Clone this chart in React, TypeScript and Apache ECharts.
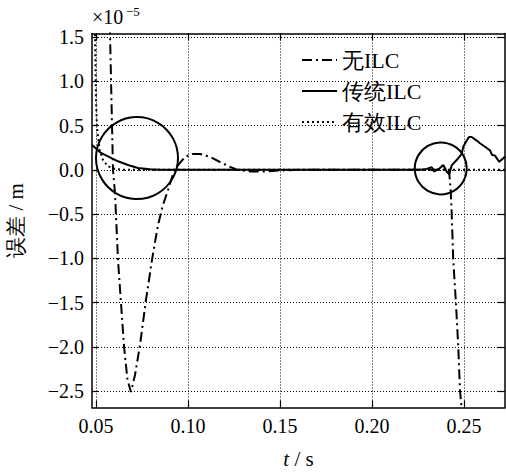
import React, { useEffect, useRef } from "react";
import * as echarts from "echarts";

// ---------- data (error values in units of 1e-5 m) ----------
const seriesNames = ["无ILC", "传统ILC", "有效ILC"];

const xTicks = [0.05, 0.1, 0.15, 0.2, 0.25];
const yTicks = [-2.5, -2.0, -1.5, -1.0, -0.5, 0.0, 0.5, 1.0, 1.5];

const X_MIN = 0.04783;
const X_MAX = 0.2723;
const Y_MIN = -2.686;
const Y_MAX = 1.54;

// 无ILC (no ILC)
const noIlcT = [
  0.0561, 0.05761, 0.05924, 0.06033, 0.06196, 0.06359, 0.06522, 0.06712, 0.06902,
  0.0712, 0.07391, 0.07717, 0.08043, 0.0837, 0.08641, 0.08913, 0.09185, 0.09348,
  0.09565, 0.09837, 0.10217, 0.10652, 0.11196, 0.11739, 0.12174, 0.12663, 0.1337,
  0.14185, 0.15, 0.16087, 0.2, 0.24185, 0.24277, 0.24332, 0.24418, 0.24565, 0.2469,
  0.24783, 0.24864, 0.2489,
];
const noIlcV = [
  3.0, 1.546, 0.0, -0.262, -1.019, -1.505, -1.991, -2.375, -2.511,
  -2.319, -1.98, -1.471, -1.019, -0.624, -0.398, -0.228, -0.047, 0.02,
  0.077, 0.145, 0.179, 0.179, 0.145, 0.088, 0.043, 0.0, -0.019,
  -0.019, -0.008, 0.0, 0.0, 0.0, -0.228, -0.49, -1.02, -1.51, -2.0,
  -2.49, -2.68, -3.0,
];

// 传统ILC (conventional ILC)
const convT = [
  0.04783, 0.05272, 0.05761, 0.06196, 0.06739, 0.07283, 0.07935, 0.08478, 0.15, 0.2,
  0.22429, 0.22609, 0.22973, 0.23245, 0.2337, 0.23696, 0.23875, 0.2406, 0.24201,
  0.24332, 0.24603, 0.24875, 0.24962, 0.25147, 0.25272, 0.25418, 0.2569, 0.2587,
  0.26141, 0.26413, 0.26522, 0.26685, 0.26918, 0.27136, 0.2723,
];
const convV = [
  0.28, 0.19, 0.14, 0.096, 0.054, 0.02, 0.006, 0.0, 0.0, 0.0,
  0.0, 0.0, 0.01, 0.03, -0.02, 0.02, 0.055, -0.02, -0.05,
  0.05, 0.11, 0.18, 0.26, 0.33, 0.37, 0.37, 0.33, 0.3,
  0.26, 0.22, 0.17, 0.16, 0.09, 0.13, 0.15,
];

// 有效ILC (effective ILC)
const effT = [0.0484, 0.04946, 0.05, 0.05054, 0.05201, 0.0538, 0.05652, 0.06033, 0.065, 0.15, 0.2, 0.25, 0.2723];
const effV = [3.0, 1.55, 0.79, 0.47, 0.22, 0.11, 0.04, 0.01, 0.0, 0.0, 0.0, 0.0, 0.0];

// annotation circles: [t, value] centres and pixel radius
const circleCentres = [
  [0.07228, 0.133],
  [0.23739, 0.015],
];
const circleRadii = [41, 26];

const FONT = "'Liberation Serif', serif";

const zip = (t: number[], v: number[]) => t.map((x, i) => [x, v[i]]);
const fmtY = (v: number) => v.toFixed(1).replace("-", "\u2212");

export default function App() {
  const ref = useRef<HTMLDivElement>(null);

  useEffect(() => {
    if (!ref.current) return;
    const chart = echarts.init(ref.current, undefined, { renderer: "svg" });

    const axisLineStyle = { color: "#000", width: 1.5 };
    const tickStyle = { color: "#000", width: 1.2 };
    const gridLine = { show: true, lineStyle: { color: "#000", width: 1, type: [1, 2] as any } };

    const option: any = {
      animation: false,
      backgroundColor: "#fff",
      textStyle: { fontFamily: FONT },
      grid: {
        left: 92,
        top: 33.5,
        right: 1,
        bottom: 65.5,
        containLabel: false,
        outerBoundsMode: "none",
      },
      legend: {
        data: seriesNames,
        orient: "vertical",
        left: 301,
        top: 49,
        padding: 0,
        itemWidth: 35,
        itemHeight: 14,
        itemGap: 9,
        itemStyle: { opacity: 0 },
        textStyle: { fontSize: 22, fontFamily: FONT, color: "#000" },
      },
      xAxis: [
        {
          type: "value",
          position: "bottom",
          min: X_MIN,
          max: X_MAX,
          axisLine: { show: true, onZero: false, lineStyle: axisLineStyle },
          axisTick: { show: true, inside: true, length: 7, customValues: xTicks, lineStyle: tickStyle },
          axisLabel: {
            customValues: xTicks,
            formatter: (v: number) => v.toFixed(2),
            color: "#000",
            fontSize: 20,
            fontFamily: FONT,
            margin: 8,
          },
          splitLine: gridLine,
          name: "{i|t} / s",
          nameLocation: "middle",
          nameGap: 41,
          nameTextStyle: {
            fontSize: 21,
            fontFamily: FONT,
            color: "#000",
            rich: { i: { fontSize: 21, fontFamily: FONT, fontStyle: "italic", color: "#000" } },
          },
        },
        {
          type: "value",
          position: "top",
          min: X_MIN,
          max: X_MAX,
          axisLine: { show: true, onZero: false, lineStyle: axisLineStyle },
          axisTick: { show: true, inside: true, length: 7, customValues: xTicks, lineStyle: tickStyle },
          axisLabel: { show: false },
          splitLine: { show: false },
        },
      ],
      yAxis: [
        {
          type: "value",
          position: "left",
          min: Y_MIN,
          max: Y_MAX,
          axisLine: { show: true, onZero: false, lineStyle: axisLineStyle },
          axisTick: { show: true, inside: true, length: 7, customValues: yTicks, lineStyle: tickStyle },
          axisLabel: {
            customValues: yTicks,
            formatter: fmtY,
            color: "#000",
            fontSize: 20,
            fontFamily: FONT,
            margin: 8,
          },
          splitLine: gridLine,
          name: "误差 / m",
          nameLocation: "middle",
          nameGap: 66,
          nameTextStyle: { fontSize: 21, fontFamily: FONT, color: "#000" },
        },
        {
          type: "value",
          position: "right",
          min: Y_MIN,
          max: Y_MAX,
          axisLine: { show: true, onZero: false, lineStyle: axisLineStyle },
          axisTick: { show: true, inside: true, length: 7, customValues: yTicks, lineStyle: tickStyle },
          axisLabel: { show: false },
          splitLine: { show: false },
        },
      ],
      series: [
        {
          name: seriesNames[0],
          type: "line",
          data: zip(noIlcT, noIlcV),
          symbol: "none",
          clip: true,
          lineStyle: { color: "#000", width: 2, type: [10, 4, 2, 4] },
          itemStyle: { color: "#000" },
        },
        {
          name: seriesNames[1],
          type: "line",
          data: zip(convT, convV),
          symbol: "none",
          clip: true,
          lineStyle: { color: "#000", width: 2, type: "solid" },
          itemStyle: { color: "#000" },
        },
        {
          name: seriesNames[2],
          type: "line",
          data: zip(effT, effV),
          symbol: "none",
          clip: true,
          lineStyle: { color: "#000", width: 2, type: [2, 3] },
          itemStyle: { color: "#000" },
        },
      ],
    };
    chart.setOption(option);

    const circles = circleCentres.map((c, i) => {
      const p = chart.convertToPixel({ gridIndex: 0 }, c) as number[];
      return {
        type: "circle",
        shape: { cx: p[0], cy: p[1], r: circleRadii[i] },
        style: { fill: "none", stroke: "#000", lineWidth: 2 },
        z: 100,
      };
    });

    chart.setOption({
      graphic: [
        ...circles,
        {
          type: "text",
          left: 92,
          top: 7,
          style: { text: "×10", font: `20px ${FONT}`, fill: "#000" },
        },
        {
          type: "text",
          left: 126,
          top: 5,
          style: { text: "\u22125", font: `13px ${FONT}`, fill: "#000" },
        },
      ],
    });

    return () => chart.dispose();
  }, []);

  return (
    <div
      ref={ref}
      style={{ position: "absolute", left: 0, top: 0, width: 506, height: 473, background: "#fff" }}
    />
  );
}
